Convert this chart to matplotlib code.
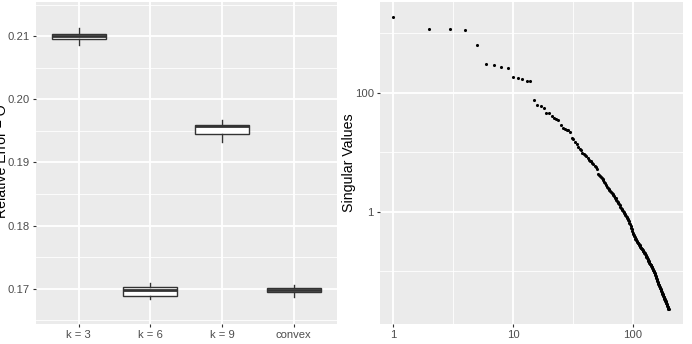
import numpy as np
import matplotlib.pyplot as plt

plt.rcParams['font.family'] = ['Liberation Sans', 'DejaVu Sans']

# boxplot summaries
groups = ["k = 3", "k = 6", "k = 9", "convex"]
q1 = [0.20957, 0.16889, 0.19456, 0.16952]
med = [0.21000, 0.16984, 0.19582, 0.16978]
q3 = [0.21027, 0.17027, 0.19598, 0.17006]
whis_lo = [0.20857, 0.16832, 0.19322, 0.16873]
whis_hi = [0.21122, 0.17086, 0.19667, 0.17059]

# singular values (right panel), index 1..200
sing_vals = [
    1910, 1175, 1170, 1120, 640, 300, 293, 275, 261, 185,
    180, 171, 160, 155, 76, 63, 61, 55, 46, 45,
    40, 38, 36, 34.5, 28.5, 25.7, 24.3, 24.0, 23.4, 22.0,
    17.5, 16.6, 15.1, 13.8, 12.4, 11.5, 10.7, 9.8, 9.2, 8.9,
    8.5, 7.9, 7.3, 7.1, 7.0, 6.6, 6.2, 5.9, 5.6, 5.25,
    4.27, 4.07, 3.94, 3.80, 3.67, 3.53, 3.43, 3.20, 2.99, 2.75,
    2.63, 2.51, 2.43, 2.32, 2.21, 2.11, 2.04, 1.97, 1.88, 1.80,
    1.72, 1.66, 1.58, 1.51, 1.45, 1.40, 1.35, 1.27, 1.20, 1.135,
    1.10, 1.07, 1.035, 0.989, 0.944, 0.902, 0.871, 0.832, 0.804, 0.776,
    0.759, 0.733, 0.692, 0.653, 0.617, 0.575, 0.537, 0.501, 0.468, 0.437,
    0.412, 0.398, 0.385, 0.372, 0.351, 0.339, 0.327, 0.316, 0.309, 0.299,
    0.292, 0.283, 0.275, 0.269, 0.260, 0.254, 0.248, 0.243, 0.237, 0.232,
    0.226, 0.221, 0.216, 0.209, 0.203, 0.197, 0.191, 0.186, 0.180, 0.174,
    0.169, 0.164, 0.158, 0.154, 0.150, 0.145, 0.141, 0.137, 0.133, 0.130,
    0.127, 0.124, 0.122, 0.118, 0.115, 0.112, 0.108, 0.105, 0.102, 0.100,
    0.0973, 0.0944, 0.0912, 0.0881, 0.0847, 0.0813, 0.0780, 0.0750, 0.0724, 0.0700,
    0.0676, 0.0653, 0.0631, 0.0610, 0.0592, 0.0575, 0.0560, 0.0543, 0.0527, 0.0513,
    0.0501, 0.0484, 0.0470, 0.0452, 0.0439, 0.0427, 0.0414, 0.0403, 0.0391, 0.0380,
    0.0370, 0.0361, 0.0351, 0.0341, 0.0333, 0.0324, 0.0316, 0.0308, 0.0300, 0.0292,
    0.0285, 0.0277, 0.0270, 0.0263, 0.0257, 0.0251, 0.0244, 0.0238, 0.0232, 0.0226,
]
idx = np.arange(1, len(sing_vals) + 1)

W, H = 692, 344
fig = plt.figure(figsize=(W / 100, H / 100), dpi=100)
ax1 = fig.add_axes([35.7 / W, 20 / H, 301 / W, 322 / H])
ax2 = fig.add_axes([379.5 / W, 20 / H, 303 / W, 322 / H])

def gg_style(ax):
    ax.set_facecolor('#EBEBEB')
    for s in ax.spines.values():
        s.set_visible(False)
    ax.set_axisbelow(True)
    ax.grid(which='major', color='white', lw=1.3)
    ax.grid(which='minor', color='white', lw=0.6)
    ax.tick_params(which='major', length=2.5, width=0.8, color='#333333',
                   labelcolor='#4D4D4D', labelsize=8.1, pad=1.6)
    ax.tick_params(which='minor', length=0)

# left: boxplots
stats = []
for i, g in enumerate(groups):
    stats.append(dict(label=g, med=med[i], q1=q1[i], q3=q3[i],
                      whislo=whis_lo[i], whishi=whis_hi[i], fliers=[]))
ax1.bxp(stats, positions=range(1, len(groups) + 1), widths=0.75,
        showcaps=False, patch_artist=True,
        boxprops=dict(facecolor='white', edgecolor='#333333', lw=1.0),
        whiskerprops=dict(color='#333333', lw=1.0),
        medianprops=dict(color='#333333', lw=2.0))
gg_style(ax1)
ax1.set_xlim(0.4, len(groups) + 0.6)
ax1.set_ylim(0.1644, 0.2154)
ax1.set_yticks([0.17, 0.18, 0.19, 0.20, 0.21])
ax1.set_yticklabels(['0.17', '0.18', '0.19', '0.20', '0.21'])
ax1.set_yticks([0.165, 0.175, 0.185, 0.195, 0.205, 0.215], minor=True)
ax1.set_xticks(range(1, len(groups) + 1))
ax1.set_xticklabels(groups)
# the title is partly cut off at the left edge in the original
fig.text(2.5 / W, 1 - 161 / H, 'Relative Error \u2212 \u0398', rotation=90,
         ha='center', va='center', fontsize=10.2)

# right: singular values, log-log
ax2.scatter(idx, sing_vals, s=5, color='black', lw=0)
ax2.set_xscale('log')
ax2.set_yscale('log')
ax2.margins(0.05)
gg_style(ax2)
ax2.set_xticks([1, 10, 100])
ax2.set_xticklabels(['1', '10', '100'])
ax2.set_xticks([10 ** 0.5, 10 ** 1.5], minor=True)
ax2.set_yticks([1, 100])
ax2.set_yticklabels(['1', '100'])
ax2.set_yticks([0.1, 10, 1000], minor=True)
ax2.tick_params(which='minor', labelleft=False, labelbottom=False)
fig.text(349.5 / W, 1 - 162.5 / H, 'Singular Values', rotation=90,
         ha='center', va='center', fontsize=10.2)

fig.savefig('out.png', dpi=100)
